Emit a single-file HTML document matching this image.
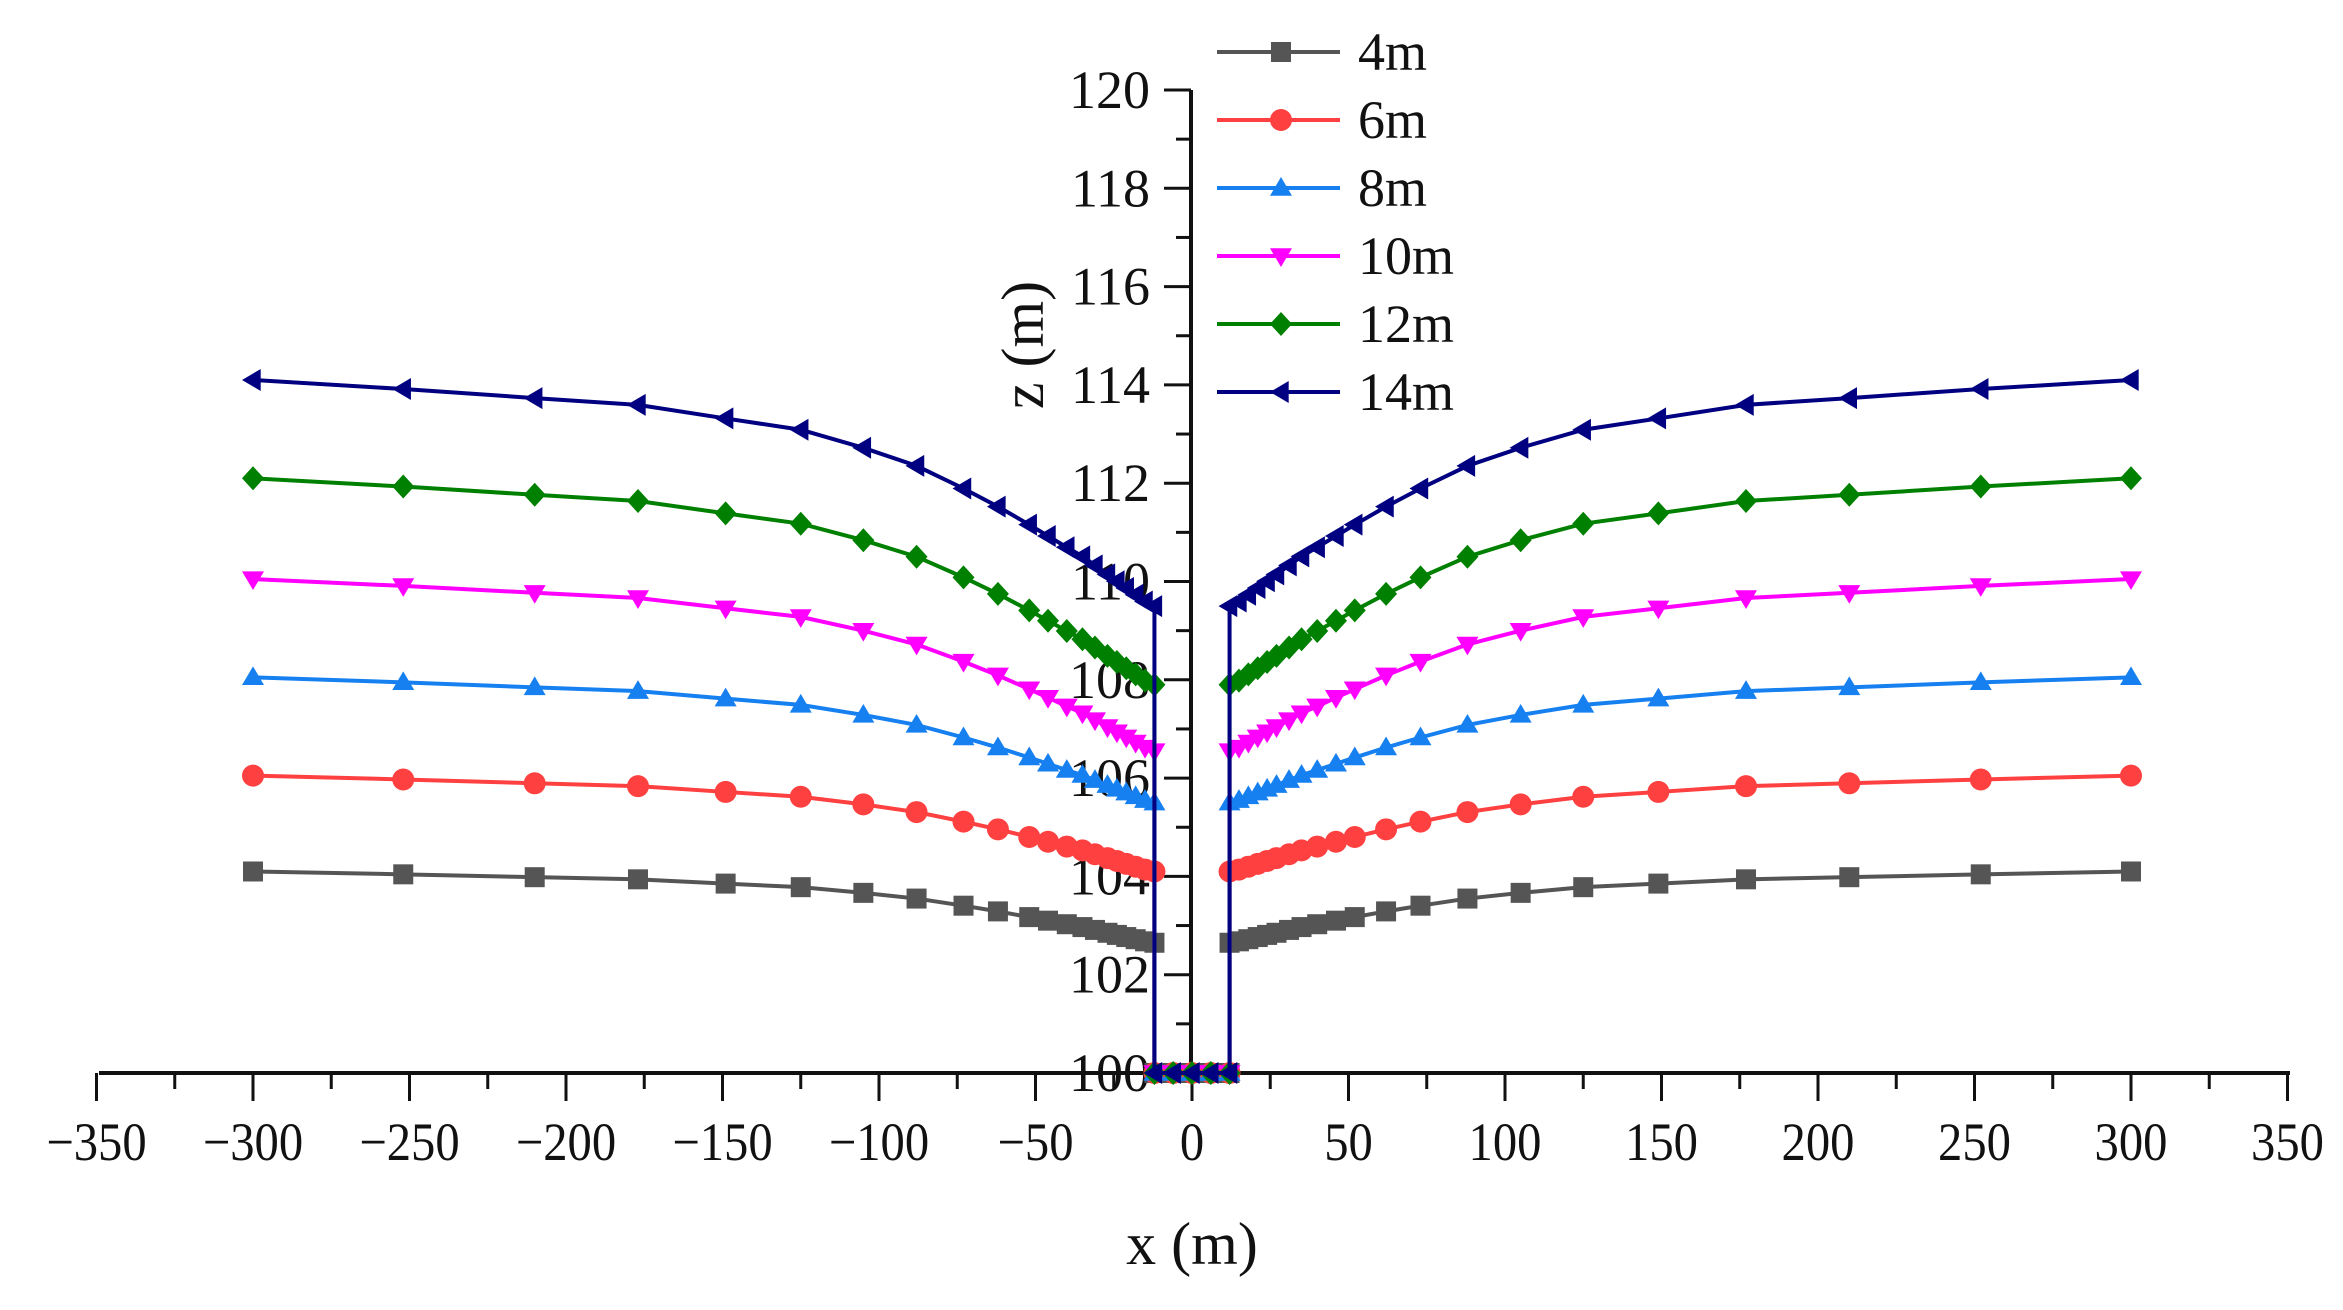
<!DOCTYPE html>
<html><head><meta charset="utf-8"><style>
html,body{margin:0;padding:0;background:#fff;width:2343px;height:1310px;overflow:hidden}
svg text{font-family:"Liberation Serif",serif;fill:#111}
</style></head><body>
<svg id="s" width="2343" height="1310" viewBox="0 0 2343 1310" xmlns="http://www.w3.org/2000/svg"></svg>
<script>
const S=document.getElementById('s');let h='';
const X0=1192,XU=3.13,Y0=1073,YU=49.15;
const px=x=>X0+x*XU, py=z=>Y0-(z-100)*YU;
h+=`<line x1="99" y1="${Y0}" x2="2290" y2="${Y0}" stroke="#111" stroke-width="4"/>`;
for(let v=-350;v<=350;v+=25){const maj=v%50==0;h+=`<line x1="${px(v)}" y1="${Y0}" x2="${px(v)}" y2="${Y0+(maj?28:16)}" stroke="#111" stroke-width="3"/>`;
if(maj)h+=`<text x="${px(v)}" y="1160" font-size="54" text-anchor="middle" transform="translate(${px(v)},0) scale(0.9,1) translate(${-px(v)},0)">${v<0?'−'+(-v):v}</text>`;}
h+=`<line x1="1191" y1="${py(120)}" x2="1191" y2="${Y0}" stroke="#111" stroke-width="4"/>`;
for(let v=100;v<=120;v++){const maj=v%2==0;h+=`<line x1="${1191-(maj?27:15)}" y1="${py(v)}" x2="1191" y2="${py(v)}" stroke="#111" stroke-width="3"/>`;
if(maj)h+=`<text x="1150" y="${py(v)+18}" font-size="54" text-anchor="end">${v}</text>`;}
h+=`<text x="1192" y="1264" font-size="60" text-anchor="middle">x (m)</text>`;
h+=`<text transform="translate(1043,345) rotate(-90)" font-size="60" text-anchor="middle">z (m)</text>`;
const fx=[[300,0],[252,.04],[210,.08],[177,.11],[149,.17],[125,.22],[105,.3],[88,.38],[73,.48],[62,.56],[52,.64],[46,.69],[40,.74],[35,.78],[31,.82],[27,.86],[24,.89],[21,.92],[18,.95],[15,.98],[12,1]];
const ser=[['4m','#555555',104.1,1.45,'sq'],['6m','#ff4040',106.05,1.95,'ci'],['8m','#1680f0',108.05,2.55,'up'],['10m','#ff00ff',110.05,3.5,'dn'],['12m','#008000',112.1,4.2,'di'],['14m','#000080',114.1,4.6,'lt']];
function mk(t,x,y,c,r){r=r||11;
 if(t=='sq')return `<rect x="${x-r+1}" y="${y-r+1}" width="${2*r-2}" height="${2*r-2}" fill="${c}"/>`;
 if(t=='ci')return `<circle cx="${x}" cy="${y}" r="${r}" fill="${c}"/>`;
 if(t=='up')return `<polygon points="${x},${y-r} ${x+r},${y+r*.7} ${x-r},${y+r*.7}" fill="${c}"/>`;
 if(t=='dn')return `<polygon points="${x},${y+r} ${x+r},${y-r*.7} ${x-r},${y-r*.7}" fill="${c}"/>`;
 if(t=='di')return `<polygon points="${x},${y-r-1} ${x+r},${y} ${x},${y+r+1} ${x-r},${y}" fill="${c}"/>`;
 return `<polygon points="${x-r},${y} ${x+r*.7},${y-r} ${x+r*.7},${y+r}" fill="${c}"/>`;}
ser.forEach(([n,c,b,d,t])=>{
 const L=fx.map(([x,f])=>[-x,b-d*f]);const R=fx.slice().reverse().map(([x,f])=>[x,b-d*f]);
 const pts=[...L,[-12,100],[-6,100],[0,100],[6,100],[12,100],...R];
 h+=`<polyline points="${pts.map(p=>px(p[0])+','+py(p[1])).join(' ')}" fill="none" stroke="${c}" stroke-width="4"/>`;
 pts.forEach(p=>h+=mk(t,px(p[0]),py(p[1]),c));
});
ser.forEach(([n,c,b,d,t],i)=>{const y=52+i*68;
 h+=`<line x1="1217" y1="${y}" x2="1340" y2="${y}" stroke="${c}" stroke-width="4"/>`+mk(t,1281,y,c,11)+`<text x="1358" y="${y+18}" font-size="54">${n}</text>`;});
S.innerHTML=h;
</script>
</body></html>
